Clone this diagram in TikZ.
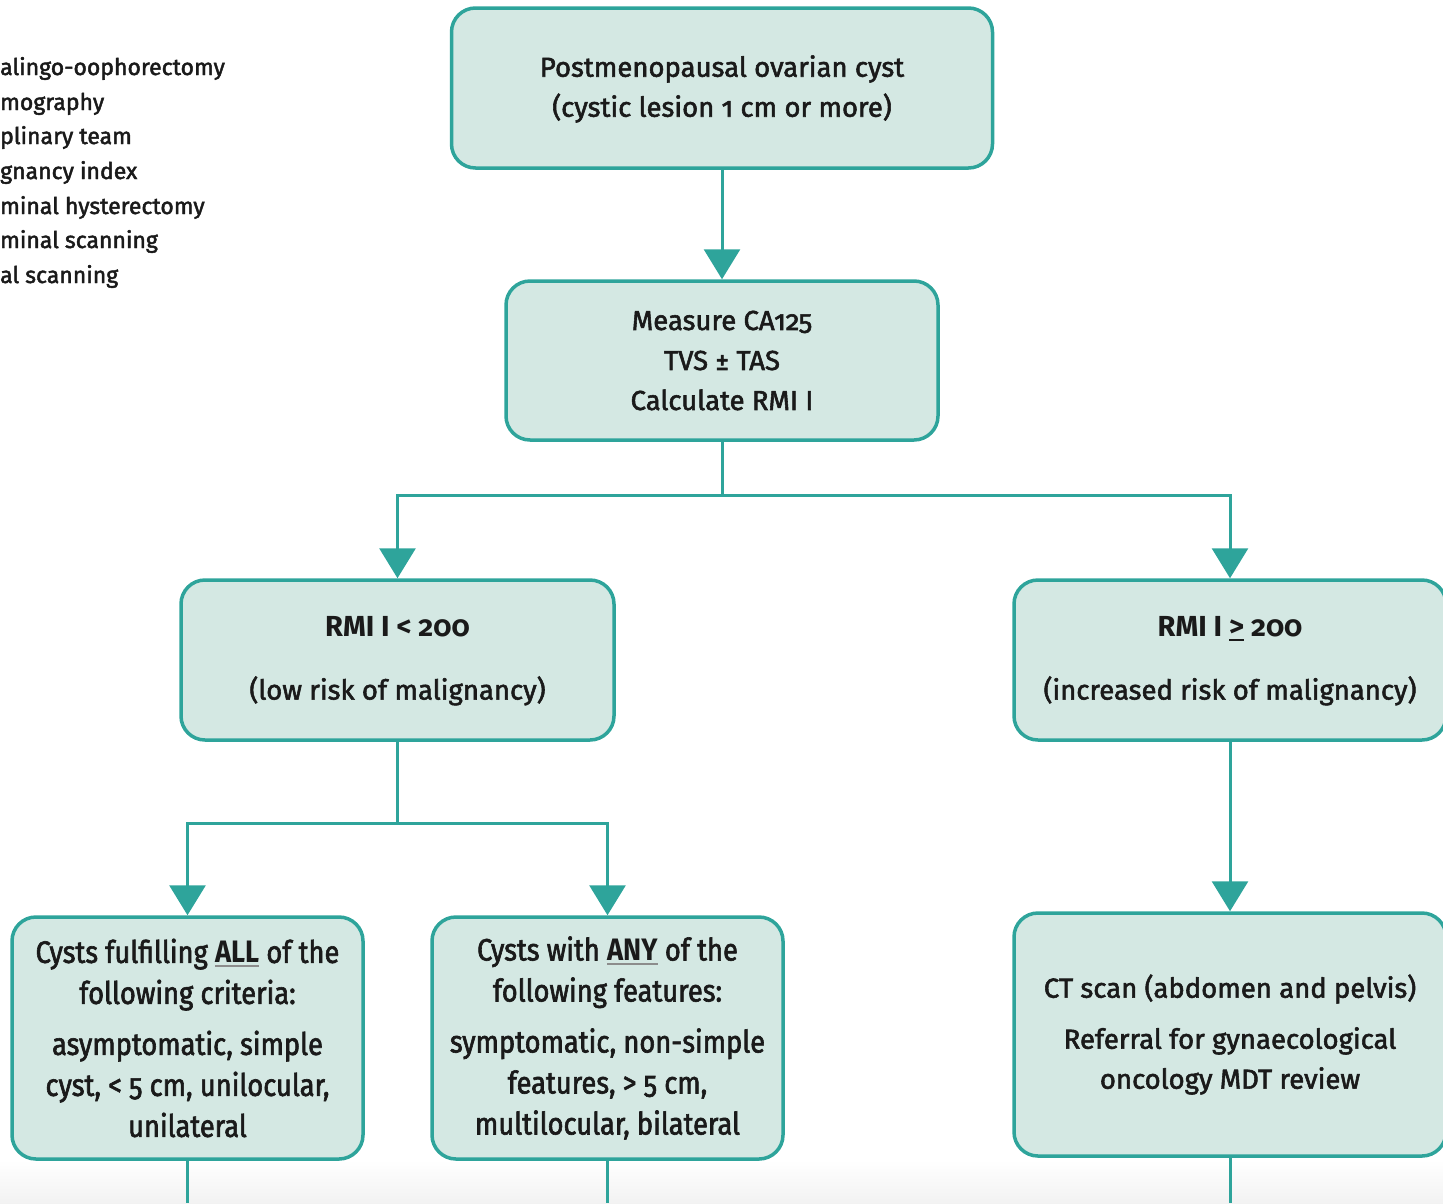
\documentclass[tikz,border=0pt]{standalone}
\usepackage{fontspec}
\setmainfont{Fira Sans}[Numbers=OldStyle, FakeBold=2, BoldFeatures={FakeBold=0}]
\newfontfamily\condfont{Fira Sans}[Numbers=OldStyle, FakeStretch=0.88, FakeBold=2, BoldFeatures={FakeBold=0}]
\usetikzlibrary{arrows.meta}
\definecolor{boxfill}{RGB}{212,232,227}
\definecolor{teal1}{RGB}{46,164,155}
\definecolor{ink}{RGB}{26,26,26}
\newcommand\grul[2]{\setbox0\hbox{#2}\rlap{\color{#1}\rule[-4pt]{\wd0}{1.6pt}}\box0\relax}
\tikzset{
  box/.style={draw=teal1, line width=3.5pt, fill=boxfill, rounded corners=24pt,
    align=center, inner sep=0pt, text=ink, font=\fontsize{27.5}{40}\selectfont},
  link/.style={draw=teal1, line width=3pt},
  arr/.style={link, -{Triangle[width=36pt,length=30pt]}},
  legend/.style={anchor=base west, inner sep=0pt, text=ink, font=\fontsize{23}{30}\selectfont}
}
\begin{document}
\begin{tikzpicture}[x=1pt,y=-1pt]
\useasboundingbox (0,0) rectangle (1443,1203);
\shade[top color=white, bottom color=black!5] (0,1160) rectangle (1443,1203);
\begin{scope}
\clip (0,0) rectangle (1443,1203);
% legend
\node[legend] (lg1) at (0,75) {alingo-oophorectomy};
\node[legend] (lg2) at (0,110) {mography};
\node[legend] (lg3) at (0,144) {plinary team};
\node[legend] (lg4) at (0,179) {gnancy index};
\node[legend] (lg5) at (0,214) {minal hysterectomy};
\node[legend] (lg6) at (0,248) {minal scanning};
\node[legend] (lg7) at (0,283) {al scanning};
% boxes
\node[box, minimum width=541pt, minimum height=160pt, text depth=4pt] (b1) at (722,88)
  {Postmenopausal ovarian cyst\\(cystic lesion 1 cm or more)};
\node[box, minimum width=432pt, minimum height=159pt] (b2) at (722,360.5)
  {Measure CA125\\TVS ± TAS\\Calculate RMI I};
\node[box, minimum width=433pt, minimum height=160pt, text depth=4pt] (b3) at (397.5,660)
  {{\fontsize{29}{40}\selectfont\bfseries RMI I < 200}\\[23pt](low risk of malignancy)};
\node[box, minimum width=432pt, minimum height=160pt, text depth=4pt] (b4) at (1230,660)
  {{\fontsize{29}{40}\selectfont\bfseries RMI I \grul{ink}{>} 200}\\[23pt](increased risk of malignancy)};
\node[box, minimum width=351pt, minimum height=242pt, font=\condfont\fontsize{31}{41}\selectfont] (b5) at (187.5,1038)
  {Cysts fulfilling \grul{black!45}{\textbf{ALL}} of the\\following criteria:\\[10pt]asymptomatic, simple\\cyst, < 5 cm, unilocular,\\unilateral};
\node[box, minimum width=351pt, minimum height=242pt, font=\condfont\fontsize{31}{41}\selectfont] (b6) at (607.5,1038)
  {Cysts with \grul{black!45}{\textbf{ANY}} of the\\following features:\\[10pt]symptomatic, non-simple\\features, > 5 cm,\\multilocular, bilateral};
\node[box, minimum width=432pt, minimum height=243pt] (b7) at (1230,1034.5)
  {CT scan (abdomen and pelvis)\\[11pt]Referral for gynaecological\\oncology MDT review};
% connectors
\coordinate (e5) at (187.5,1203);
\coordinate (e6) at (607.5,1203);
\coordinate (e7) at (1230,1203);
\draw[arr] (b1.south) -- (b2.north);
\draw[arr] (b2.south) -- ++(0,54) -| (b3.north);
\draw[arr] (b2.south) -- ++(0,54) -| (b4.north);
\draw[arr] (b3.south) -- ++(0,82) -| (b5.north);
\draw[arr] (b3.south) -- ++(0,82) -| (b6.north);
\draw[arr] (b4.south) -- (b7.north);
\draw[link] (b5.south) -- (e5);
\draw[link] (b6.south) -- (e6);
\draw[link] (b7.south) -- (e7);
\end{scope}
\end{tikzpicture}
\end{document}
